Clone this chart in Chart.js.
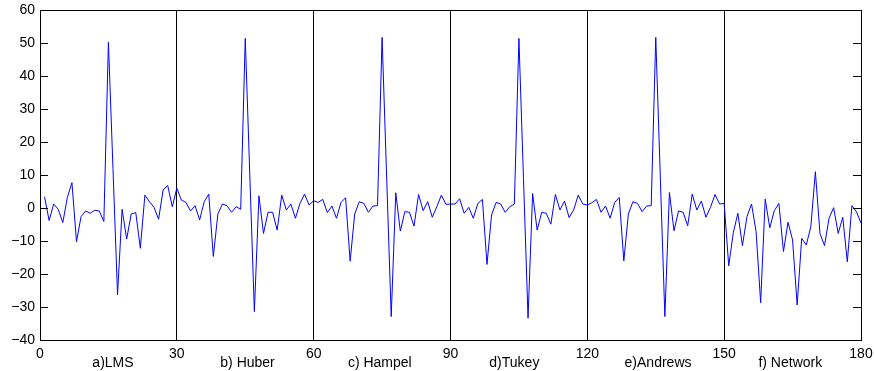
<!DOCTYPE html>
<html>
<head>
<meta charset="utf-8">
<script src="https://cdn.jsdelivr.net/npm/chart.js@4"></script>
<style>
  body { margin: 0; background: #fff; }
</style>
</head>
<body>
<canvas id="residChart" width="874" height="371"></canvas>
<script>
// residuals per method, 30 samples each
let lms = [3.4, -3.8, 1.2, -0.4, -4.4, 3.2, 7.7, -10.2, -2.6, -0.9, -1.6, -0.7, -0.9, -4.1, 50.2, 12, -26.3, -0.4, -9.4, -1.8, -1.4, -12.2, 3.9, 1.9, 0.2, -3.4, 5.5, 6.8, 0.4, 6.0]
let huber = [2.4, 1.7, -0.9, 0.7, -3.6, 1.9, 4.2, -14.7, -1.8, 1.2, 0.7, -1.3, 0.4, -0.4, 51.4, 10, -31.4, 3.7, -7.7, -1.3, -1.3, -6.7, 3.9, -0.6, 1.2, -3.1, 1.4, 4.2, 0.9, 2.2]
let hampel = [1.7, 2.6, -1.4, 0.6, -3.1, 1.7, 3.1, -16.1, -1.8, 1.9, 1.4, -1.3, 0.6, 0.7, 51.7, 9.4, -32.9, 4.6, -7.0, -1.1, -1.3, -5.5, 4.1, -0.8, 1.9, -2.8, 0.4, 3.9, 1.1, 1.2]
let tukey = [1.2, 2.8, -1.6, 0.2, -3.1, 1.4, 2.6, -17.1, -2.1, 1.7, 1.2, -1.3, 0.4, 1.2, 51.4, 9, -33.4, 4.4, -6.7, -1.3, -1.6, -4.9, 4.1, -0.6, 2.1, -2.9, -0.6, 3.9, 1.2, 0.9]
let andrews = [1.6, 2.6, -1.3, 0.6, -3.1, 1.7, 3.2, -16.0, -1.8, 1.9, 1.4, -1.1, 0.6, 0.7, 51.7, 9.4, -32.9, 4.7, -6.9, -0.9, -1.3, -5.4, 4.2, -0.6, 2.1, -2.8, 0.2, 4.1, 1.2, 1.4]
let network = [-17.5, -7.5, -1.6, -11.4, -2.6, 1.2, -7.2, -28.7, 2.7, -6.0, -0.8, 1.4, -13.2, -4.3, -9.7, -29.4, -9.2, -11.2, -5.7, 11.0, -7.7, -11.4, -3.1, 0.1, -7.7, -2.8, -16.3, 0.7, -1.1, -4.6]

let segNames = ['a)LMS', 'b) Huber', 'c) Hampel', 'd)Tukey', 'e)Andrews', 'f) Network']
let segLabelPos = [16, 45.5, 74.5, 104, 135.5, 164.5]
let xTicks = [0, 30, 60, 90, 120, 150, 180]
let yTicks = [-40, -30, -20, -10, 0, 10, 20, 30, 40, 50, 60]

let series = [].concat(lms, huber, hampel, tukey, andrews, network)
let points = series.map((y, i) => ({ x: i + 1, y: y }))

Chart.defaults.font.family = "'Liberation Sans', Arial, Helvetica, sans-serif"
Chart.defaults.font.size = 14
Chart.defaults.color = '#000'

let noPad = s => { s.paddingLeft = 0; s.paddingRight = 0; s.paddingTop = 0; s.paddingBottom = 0 }

// box around the plot + inward y tick marks (matlab style)
let frame = {
  id: 'frame',
  afterLayout(chart) {
    // method names share the band under the number ticks
    let x = chart.scales.x, x2 = chart.scales.x2
    x2.top = x.top
    x2.bottom = x.bottom
  },
  afterDraw(chart) {
    let ctx = chart.ctx
    let a = chart.chartArea
    let y = chart.scales.y
    ctx.save()
    ctx.strokeStyle = '#000'
    ctx.lineWidth = 1
    ctx.strokeRect(Math.round(a.left) + 0.5, Math.round(a.top) + 0.5, Math.round(a.right - a.left), Math.round(a.bottom - a.top))
    ctx.beginPath()
    yTicks.forEach(v => {
      let py = Math.round(y.getPixelForValue(v)) + 0.5
      ctx.moveTo(a.left, py); ctx.lineTo(a.left + 8, py)
      ctx.moveTo(a.right - 8, py); ctx.lineTo(a.right, py)
    })
    ctx.stroke()
    ctx.restore()
  }
}

let chart = new Chart(document.getElementById('residChart').getContext('2d'), {
  type: 'line',
  data: {
    datasets: [{
      data: points,
      borderColor: '#0000ff',
      borderWidth: 1,
      pointRadius: 0,
      fill: false,
      tension: 0
    }]
  },
  options: {
    responsive: false,
    animation: false,
    layout: { padding: { left: 0, top: 10, right: 13, bottom: 0 } },
    plugins: { legend: { display: false }, tooltip: { enabled: false } },
    scales: {
      x: {
        type: 'linear',
        min: 0, max: 180,
        afterBuildTicks: s => { s.ticks = xTicks.map(v => ({ value: v })) },
        afterFit: s => { s.height = 31; noPad(s) },
        ticks: { padding: 6, autoSkip: false, maxRotation: 0 },
        grid: {
          drawTicks: false,
          color: c => (c.tick && c.tick.value > 0 && c.tick.value < 180) ? '#000' : 'rgba(0,0,0,0)'
        },
        border: { display: false }
      },
      x2: {
        type: 'linear',
        position: 'bottom',
        min: 0, max: 180,
        afterBuildTicks: s => { s.ticks = segLabelPos.map(v => ({ value: v })) },
        afterFit: s => { s.height = 0; noPad(s) },
        ticks: {
          padding: 15, autoSkip: false, maxRotation: 0,
          callback: (v, i) => segNames[i]
        },
        grid: { display: false, drawTicks: false },
        border: { display: false }
      },
      y: {
        min: -40, max: 60,
        afterBuildTicks: s => { s.ticks = yTicks.map(v => ({ value: v })) },
        afterFit: s => { s.width = 40; noPad(s) },
        ticks: {
          padding: 5,
          callback: v => String(v).replace('-', '\u2212')
        },
        grid: { display: false, drawTicks: false },
        border: { display: false }
      }
    }
  },
  plugins: [frame]
})
</script>
</body>
</html>
